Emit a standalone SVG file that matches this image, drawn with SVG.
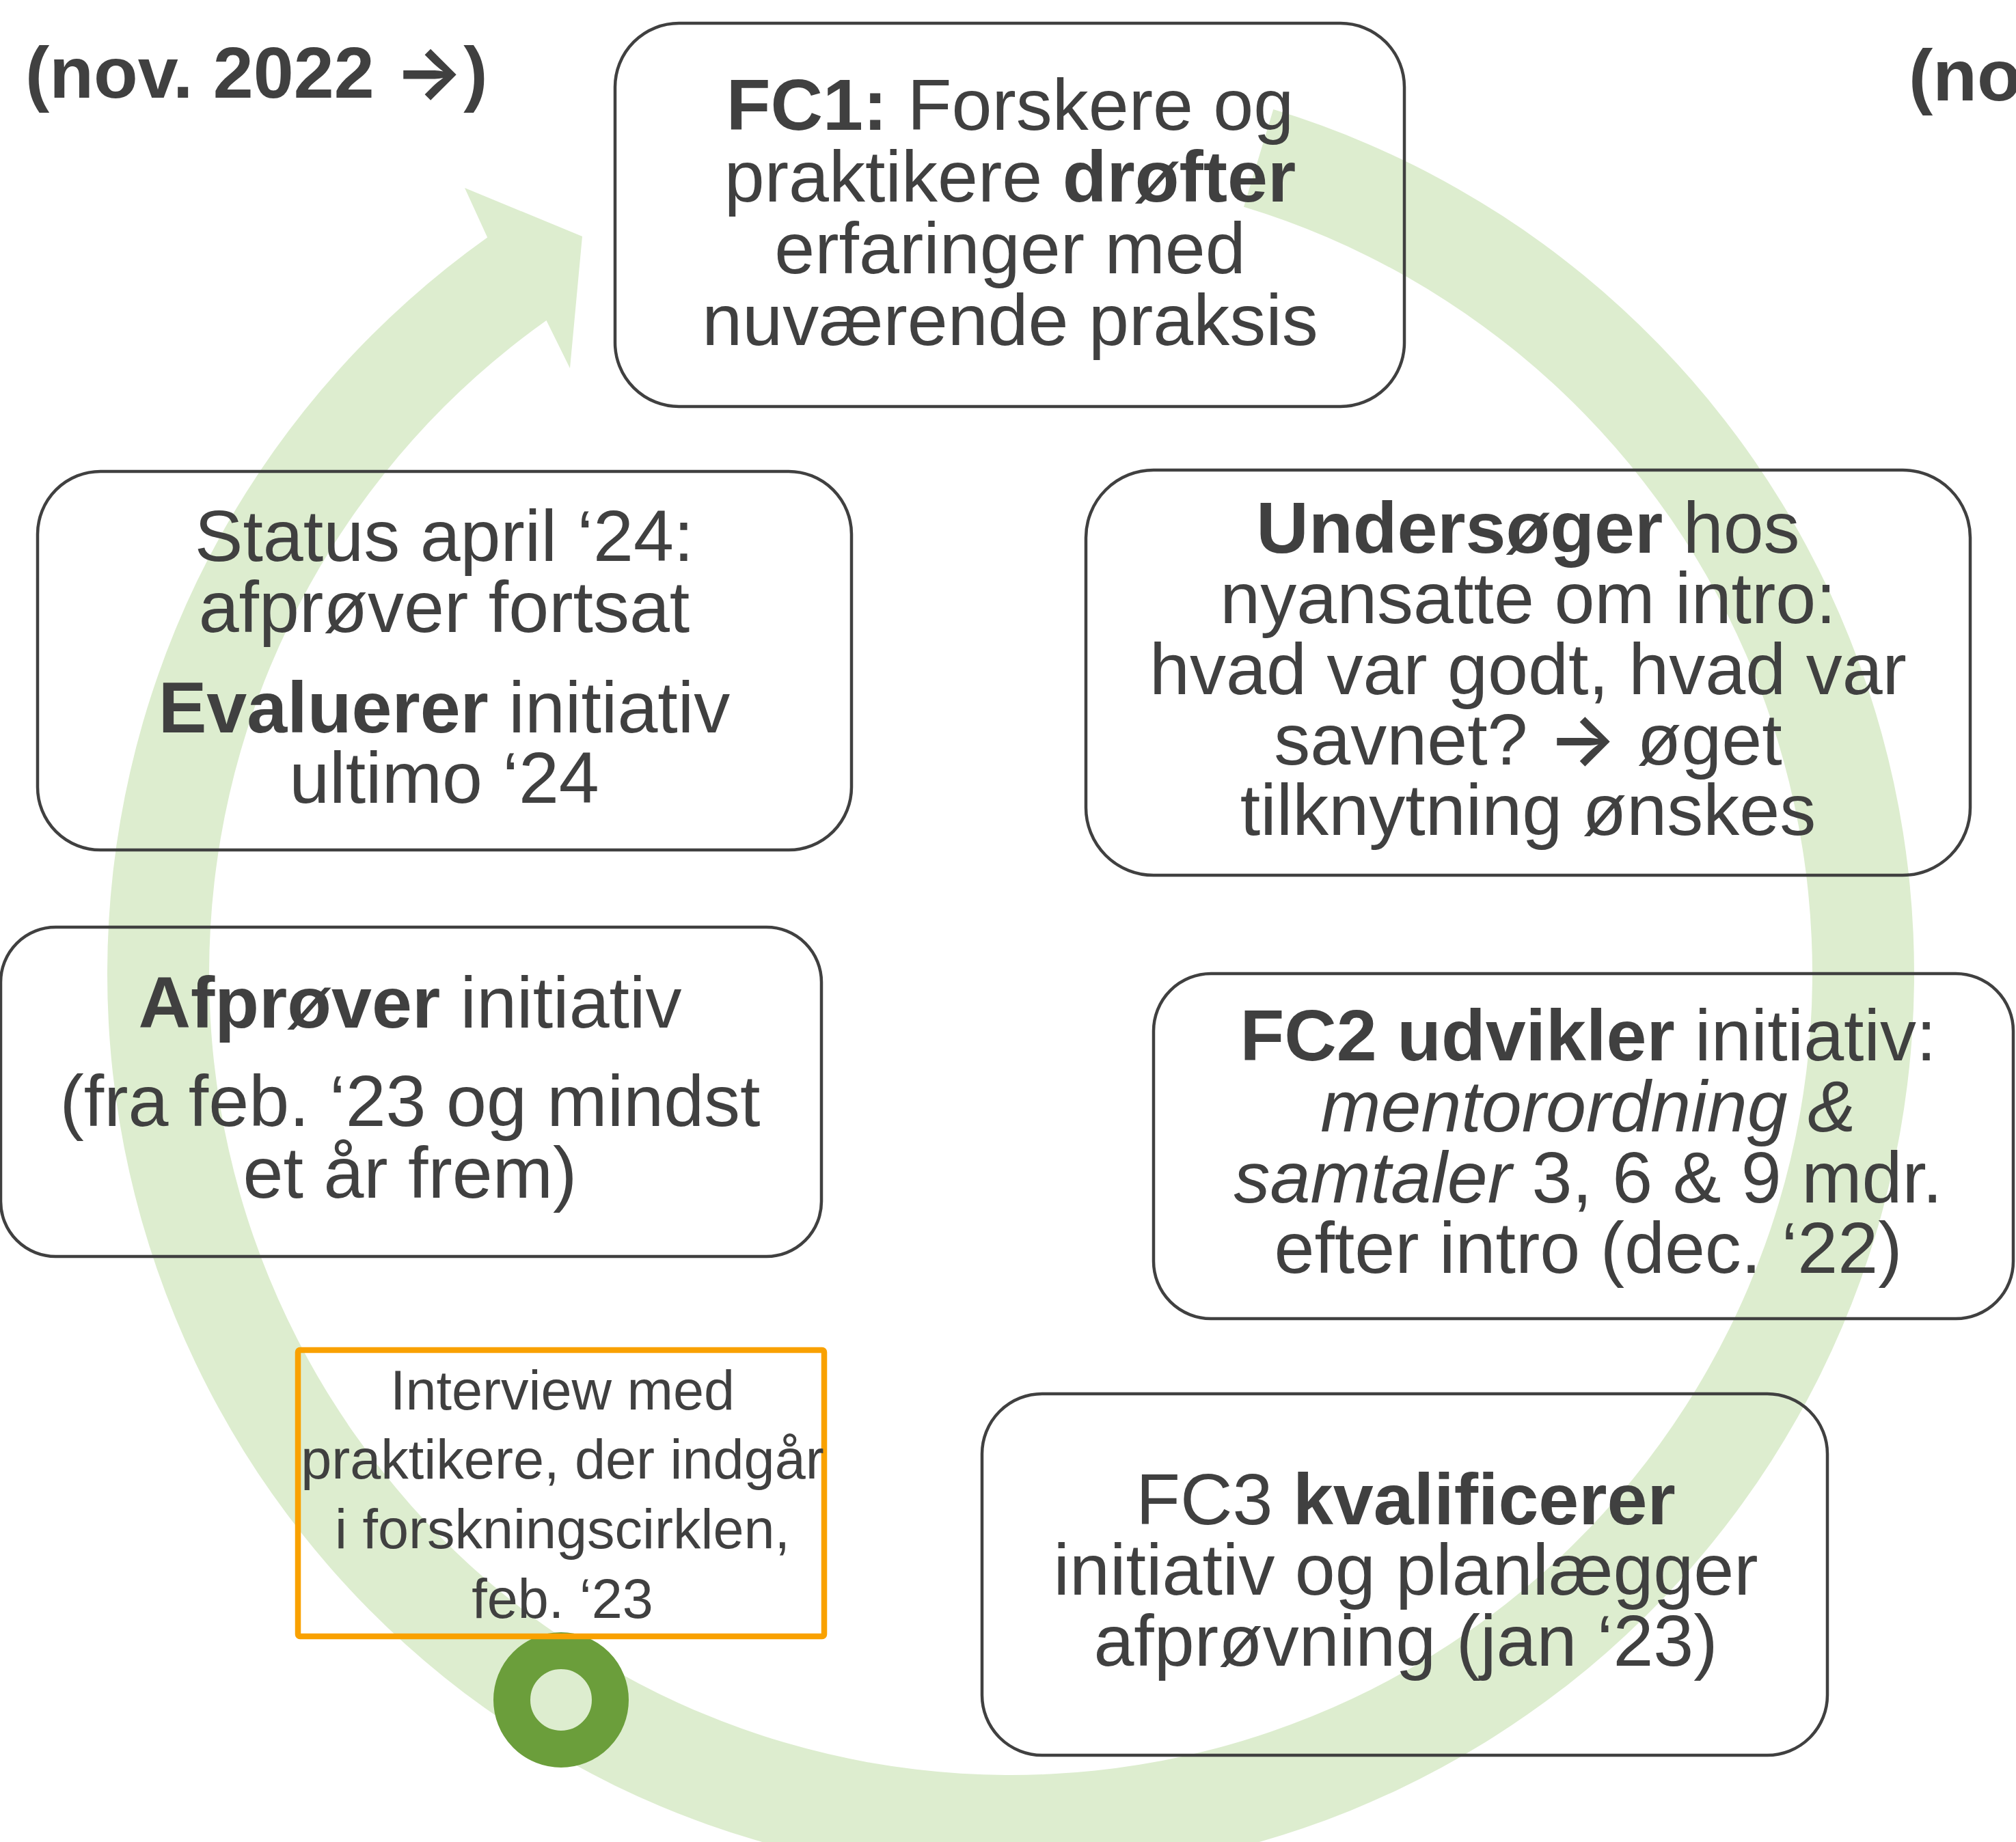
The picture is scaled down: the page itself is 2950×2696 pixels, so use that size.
<svg xmlns="http://www.w3.org/2000/svg" width="2950" height="2696" viewBox="0 0 2950 2696">
<style>
.box{fill:none;stroke:#404040;stroke-width:4.5}
.t{font-family:"Liberation Sans",Arial,sans-serif;font-size:106px;fill:#404040;text-anchor:middle}
.s{font-family:"Liberation Sans",Arial,sans-serif;font-size:81px;fill:#404040;text-anchor:middle}
.h{font-family:"Liberation Sans",Arial,sans-serif;font-size:106px;fill:#404040;font-weight:bold}
.b{font-weight:bold}
.i{font-style:italic}
.ar{font-family:Inter,"DejaVu Sans",sans-serif}
</style>
<rect width="2950" height="2696" fill="#ffffff"/>
<g id="connectors">
<path id="cycle-arrow" d="M 1863.3 160.1 A 1322 1322 0 1 1 713.2 347.4 L 680 275 L 852 346 L 834 539 L 799.5 468.9 A 1173 1173 0 1 0 1820 302.7 Z" fill="#DDEDCF"/>
</g>
<g id="title-left"><text class="h" x="37" y="143">(nov. 2022 <tspan class="ar">→</tspan>)</text></g>
<g id="title-right"><text class="h" x="2793" y="147">(no</text></g>
<g id="fc1">
<rect class="box" x="900" y="34" width="1155" height="561" rx="93.5"/>
<text class="t" y="190" x="1478"><tspan class="b">FC1:</tspan> Forskere og</text>
<text class="t" y="295" x="1478">praktikere <tspan class="b">drøfter</tspan></text>
<text class="t" y="400" x="1478">erfaringer med</text>
<text class="t" y="505" x="1478">nuværende praksis</text>
</g>
<g id="undersoeger">
<rect class="box" x="1589" y="688" width="1294" height="593" rx="99"/>
<text class="t" y="809" x="2236"><tspan class="b">Undersøger</tspan> hos</text>
<text class="t" y="912" x="2236">nyansatte om intro:</text>
<text class="t" y="1015.5" x="2236">hvad var godt, hvad var</text>
<text class="t" y="1119" x="2236">savnet? <tspan class="ar" font-weight="600">→</tspan> øget</text>
<text class="t" y="1222" x="2236">tilknytning ønskes</text>
</g>
<g id="fc2">
<rect class="box" x="1688" y="1425" width="1258" height="505" rx="84"/>
<text class="t" y="1551.5" x="2324"><tspan class="b">FC2 udvikler</tspan> initiativ:</text>
<text class="t i" y="1656" x="2324">mentorordning &amp;</text>
<text class="t" y="1759.6" x="2324"><tspan class="i">samtaler</tspan> 3, 6 &amp; 9 mdr.</text>
<text class="t" y="1863" x="2324">efter intro (dec. ‘22)</text>
</g>
<g id="fc3">
<rect class="box" x="1437" y="2040" width="1237" height="529" rx="88"/>
<text class="t" y="2231" x="2057">FC3 <tspan class="b">kvalificerer</tspan></text>
<text class="t" y="2334" x="2057">initiativ og planlægger</text>
<text class="t" y="2438" x="2057">afprøvning (jan ‘23)</text>
</g>
<g id="afproever">
<rect class="box" x="1" y="1357" width="1201" height="482" rx="80.5"/>
<text class="t" y="1504" x="600"><tspan class="b">Afprøver</tspan> initiativ</text>
<text class="t" y="1648" x="600">(fra feb. ‘23 og mindst</text>
<text class="t" y="1753" x="600">et år frem)</text>
</g>
<g id="status">
<rect class="box" x="55" y="690" width="1191" height="554" rx="92"/>
<text class="t" y="821" x="650">Status april ‘24:</text>
<text class="t" y="924.5" x="650">afprøver fortsat</text>
<text class="t" y="1072" x="650"><tspan class="b">Evaluerer</tspan> initiativ</text>
<text class="t" y="1175" x="650">ultimo ‘24</text>
</g>
<g id="milestone">
<circle cx="821" cy="2488" r="72" fill="none" stroke="#6B9E3B" stroke-width="54"/>
</g>
<g id="interview">
<rect x="436" y="1976" width="770" height="419" rx="3" fill="none" stroke="#F9A100" stroke-width="8.5"/>
<text class="s" y="2062.5" x="823">Interview med</text>
<text class="s" y="2164" x="823">praktikere, der indgår</text>
<text class="s" y="2265.5" x="823">i forskningscirklen,</text>
<text class="s" y="2368" x="823">feb. ‘23</text>
</g>
</svg>
